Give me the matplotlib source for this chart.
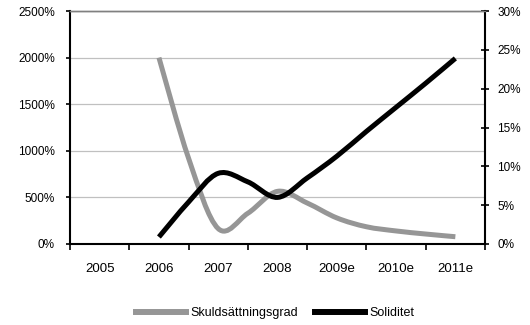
import matplotlib
matplotlib.use("Agg")
import matplotlib.pyplot as plt
from matplotlib.path import Path
from matplotlib.patches import PathPatch
from matplotlib.lines import Line2D
from matplotlib.ticker import FixedLocator, FuncFormatter

plt.rcParams['font.family'] = ['Liberation Sans', 'DejaVu Sans']
plt.rcParams['font.size'] = 8.5

years = ['2005', '2006', '2007', '2008', '2009e', '2010e', '2011e']

# half-year observations from 2006 to 2011e (category units)
periods = [1, 1.5, 2, 2.5, 3, 3.5, 4, 4.5, 5, 5.5, 6]
skuldsattningsgrad = [2000, 920, 165, 330, 565, 440, 280, 185, 140, 107, 78]   # %
soliditet = [0.9, 5.4, 9.1, 8.0, 6.0, 8.5, 11.3, 14.5, 17.6, 20.7, 23.9]       # %

GRAY = '#969696'
BLACK = '#000000'


def smooth_path(xs, ys):
    # Catmull-Rom style bezier, like a spreadsheet "smoothed line"
    pts = list(zip(xs, ys))
    verts = [pts[0]]
    codes = [Path.MOVETO]
    n = len(pts)
    for i in range(n - 1):
        p0 = pts[i - 1] if i > 0 else pts[i]
        p1 = pts[i]
        p2 = pts[i + 1]
        p3 = pts[i + 2] if i + 2 < n else pts[i + 1]
        c1 = (p1[0] + (p2[0] - p0[0]) / 6, p1[1] + (p2[1] - p0[1]) / 6)
        c2 = (p2[0] - (p3[0] - p1[0]) / 6, p2[1] - (p3[1] - p1[1]) / 6)
        verts += [c1, c2, p2]
        codes += [Path.CURVE4] * 3
    return Path(verts, codes)


fig = plt.figure(figsize=(5.3, 3.25), dpi=100)
ax = fig.add_axes([70 / 530, 81 / 325, 415 / 530, 233 / 325])
ax2 = ax.twinx()

ax.add_patch(PathPatch(smooth_path(periods, skuldsattningsgrad), fill=False,
                       edgecolor=GRAY, lw=3.6, capstyle='butt', joinstyle='round'))
ax2.add_patch(PathPatch(smooth_path(periods, soliditet), fill=False,
                        edgecolor=BLACK, lw=3.6, capstyle='butt', joinstyle='round'))

ax.set_xlim(-0.5, 6.5)
ax.set_ylim(0, 2500)
ax2.set_ylim(0, 30)

# category labels centred, tick marks between categories
ax.xaxis.set_major_locator(FixedLocator(range(len(years))))
ax.set_xticklabels(years, fontsize=9.5)
ax.xaxis.set_minor_locator(FixedLocator([i - 0.5 for i in range(len(years) + 1)]))
ax.tick_params(axis='x', which='major', length=0, pad=14)
ax.tick_params(axis='x', which='minor', length=4, width=1.2, color=BLACK, direction='out')

ax.yaxis.set_major_locator(FixedLocator(range(0, 2501, 500)))
ax.yaxis.set_major_formatter(FuncFormatter(lambda v, p: f'{v:.0f}%'))
ax.tick_params(axis='y', length=3, width=1.2, pad=8, direction='out')

ax2.yaxis.set_major_locator(FixedLocator(range(0, 31, 5)))
ax2.yaxis.set_major_formatter(FuncFormatter(lambda v, p: f'{v:.0f}%'))
ax2.tick_params(axis='y', length=6, width=1.2, pad=6, direction='inout')

ax.grid(axis='y', color='#c0c0c0', lw=0.9)
ax.set_axisbelow(True)

for a in (ax, ax2):
    a.spines['left'].set_linewidth(1.5)
    a.spines['bottom'].set_linewidth(1.5)
    a.spines['right'].set_linewidth(1.5)
    a.spines['top'].set_color('#808080')
    a.spines['top'].set_linewidth(1.0)
ax.spines['right'].set_visible(False)
ax2.spines['left'].set_visible(False)
ax2.spines['bottom'].set_visible(False)

handles = [Line2D([], [], color=GRAY, lw=4.3),
           Line2D([], [], color=BLACK, lw=4.3)]
fig.legend(handles, ['Skuldsättningsgrad', 'Soliditet'], loc='center',
           bbox_to_anchor=(0.519, 0.037), ncol=2, frameon=False, fontsize=9,
           handlelength=4.0, handletextpad=0.4, columnspacing=1.3)

fig.savefig('out.png', dpi=100)
